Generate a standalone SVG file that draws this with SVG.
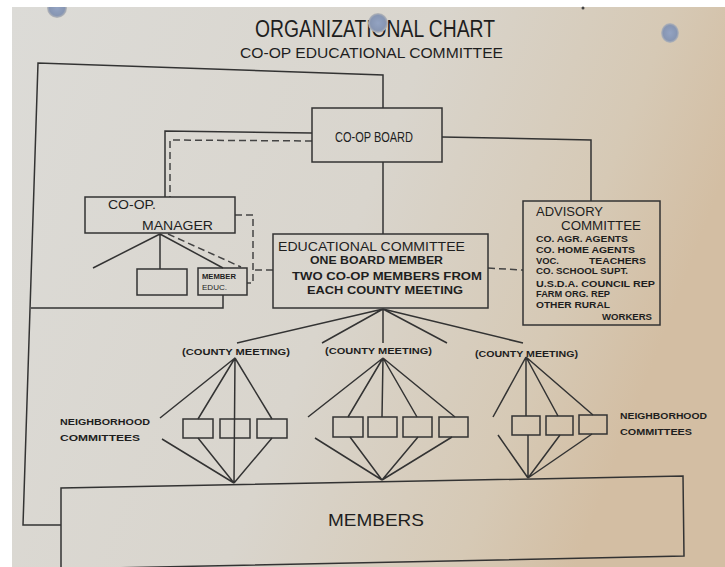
<svg xmlns="http://www.w3.org/2000/svg" width="725" height="567" viewBox="0 0 725 567">
<defs>
<linearGradient id="paper" x1="0" y1="0" x2="1" y2="0.3">
<stop offset="0" stop-color="#dcdbd7"/>
<stop offset="0.55" stop-color="#d9d5cd"/>
<stop offset="0.85" stop-color="#d6c9b5"/>
<stop offset="1" stop-color="#d3bea3"/>
</linearGradient>
<radialGradient id="hole" cx="0.5" cy="0.5" r="0.5">
<stop offset="0" stop-color="#93a3c2"/>
<stop offset="0.75" stop-color="#8796b3"/>
<stop offset="1" stop-color="#b8b8b8"/>
</radialGradient>
<style>
.ln{fill:none;stroke:#333;stroke-width:1.5;stroke-linejoin:miter}
.ds{fill:none;stroke:#444;stroke-width:1.5;stroke-dasharray:7,4}
.bx{fill:none;stroke:#333;stroke-width:1.5}
.t{font-family:"Liberation Sans",Arial,sans-serif;fill:#1e1e1e}
.b{font-family:"Liberation Sans",Arial,sans-serif;fill:#1e1e1e;font-weight:bold}
</style>
</defs>
<rect x="0" y="0" width="725" height="567" fill="#ffffff"/>
<rect x="12" y="7" width="713" height="560" fill="url(#paper)"/>
<circle cx="57" cy="8" r="10" fill="url(#hole)"/>
<rect x="40" y="0" width="40" height="7" fill="#ffffff"/>
<ellipse cx="670" cy="33" rx="9" ry="10" fill="url(#hole)"/>
<circle cx="583" cy="8" r="1.5" fill="#444"/>

<g id="title">
<text class="t" x="255" y="37" font-size="23" textLength="240" lengthAdjust="spacingAndGlyphs">ORGANIZATIONAL CHART</text>
<circle cx="378" cy="23" r="10" fill="url(#hole)"/>
<text class="t" x="240" y="58" font-size="15" textLength="263" lengthAdjust="spacingAndGlyphs">CO-OP EDUCATIONAL COMMITTEE</text>
</g>

<g id="connectors">
<path class="ln" d="M383,108 L383,75 L38,63 L23,525 L61,525"/>
<path class="ln" d="M223,295 L223,308 L31,308"/>
<path class="ln" d="M312,133 L165,131 L165,197"/>
<path class="ds" d="M312,141 L170,140 L170,197"/>
<path class="ln" d="M442,137 L591,140 L591,201"/>
<path class="ln" d="M383,162 L383,234"/>
<path class="ln" d="M160,234 L93,268 M160,234 L160,269 M160,234 L223,268"/>
<path class="ds" d="M168,234 L241,267"/>
<path class="ds" d="M235,215 L253,215 L253,283 L247,283"/>
<path class="ds" d="M273,270 L253,270"/>
<path class="ds" d="M488,268 L523,270"/>
<path class="ln" d="M383,309 L237,343 M383,309 L322,343 M383,309 L383,343 M383,309 L447,343 M383,309 L523,343"/>
<path class="ln" d="M235,358 L160,418 M235,358 L198,419 M235,358 L234,483 M235,358 L272,419 M162,439 L234,483 M198,438 L234,483 M272,438 L234,483"/>
<path class="ln" d="M383,358 L308,417 M383,358 L348,417 M383,358 L382,417 M383,358 L417,417 M383,358 L455,417 M315,438 L382,480 M350,437 L382,480 M418,437 L382,480 M452,437 L382,480"/>
<path class="ln" d="M526,357 L493,417 M526,357 L526,416 M526,357 L558,416 M526,357 L593,415 M498,435 L528,478 M528,435 L528,478 M560,435 L528,478 M592,434 L528,478"/>
</g>

<g id="board">
<rect class="bx" x="312" y="108" width="130" height="54"/>
<text class="t" x="335" y="142" font-size="14" textLength="78" lengthAdjust="spacingAndGlyphs">CO-OP BOARD</text>
</g>

<g id="manager">
<rect class="bx" x="85" y="197" width="150" height="36"/>
<text class="t" x="108" y="209" font-size="13" textLength="48" lengthAdjust="spacingAndGlyphs">CO-OP.</text>
<text class="t" x="142" y="230" font-size="13" textLength="71" lengthAdjust="spacingAndGlyphs">MANAGER</text>
</g>

<g id="blank-box">
<rect class="bx" x="137" y="269" width="50" height="26"/>
</g>

<g id="member-educ">
<rect class="bx" x="198" y="268" width="49" height="27"/>
<text class="b" x="202" y="279" font-size="8" textLength="34" lengthAdjust="spacingAndGlyphs">MEMBER</text>
<text class="t" x="202" y="290" font-size="8" textLength="25" lengthAdjust="spacingAndGlyphs">EDUC.</text>
</g>

<g id="educational-committee">
<rect class="bx" x="273" y="234" width="215" height="74"/>
<text class="t" x="278" y="251" font-size="13" textLength="187" lengthAdjust="spacingAndGlyphs">EDUCATIONAL COMMITTEE</text>
<text class="b" x="310" y="264" font-size="10.5" textLength="133" lengthAdjust="spacingAndGlyphs">ONE BOARD MEMBER</text>
<text class="b" x="292" y="280" font-size="10.5" textLength="190" lengthAdjust="spacingAndGlyphs">TWO CO-OP MEMBERS FROM</text>
<text class="b" x="307" y="294" font-size="10.5" textLength="156" lengthAdjust="spacingAndGlyphs">EACH COUNTY MEETING</text>
</g>

<g id="advisory-committee">
<rect class="bx" x="523" y="201" width="137" height="124"/>
<text class="t" x="536" y="216" font-size="12" textLength="67" lengthAdjust="spacingAndGlyphs">ADVISORY</text>
<text class="t" x="561" y="230" font-size="12" textLength="80" lengthAdjust="spacingAndGlyphs">COMMITTEE</text>
<text class="b" x="536" y="242" font-size="9" textLength="92" lengthAdjust="spacingAndGlyphs">CO. AGR. AGENTS</text>
<text class="b" x="536" y="253" font-size="9" textLength="99" lengthAdjust="spacingAndGlyphs">CO. HOME AGENTS</text>
<text class="b" x="536" y="264" font-size="9" textLength="23" lengthAdjust="spacingAndGlyphs">VOC.</text>
<text class="b" x="589" y="264" font-size="9" textLength="57" lengthAdjust="spacingAndGlyphs">TEACHERS</text>
<text class="b" x="536" y="274" font-size="9" textLength="92" lengthAdjust="spacingAndGlyphs">CO. SCHOOL SUPT.</text>
<text class="b" x="536" y="287" font-size="9" textLength="119" lengthAdjust="spacingAndGlyphs">U.S.D.A. COUNCIL REP</text>
<text class="b" x="536" y="297" font-size="9" textLength="74" lengthAdjust="spacingAndGlyphs">FARM ORG. REP</text>
<text class="b" x="536" y="308" font-size="9" textLength="74" lengthAdjust="spacingAndGlyphs">OTHER RURAL</text>
<text class="b" x="602" y="320" font-size="9" textLength="50" lengthAdjust="spacingAndGlyphs">WORKERS</text>
</g>

<g id="county-meeting-1">
<text class="b" x="182" y="355" font-size="9" textLength="108" lengthAdjust="spacingAndGlyphs">(COUNTY MEETING)</text>
</g>
<g id="county-meeting-2">
<text class="b" x="325" y="354" font-size="9" textLength="107" lengthAdjust="spacingAndGlyphs">(COUNTY MEETING)</text>
</g>
<g id="county-meeting-3">
<text class="b" x="475" y="357" font-size="9" textLength="103" lengthAdjust="spacingAndGlyphs">(COUNTY MEETING)</text>
</g>

<g id="neighborhood-left">
<rect class="bx" x="183" y="419" width="30" height="19"/>
<rect class="bx" x="220" y="419" width="30" height="19"/>
<rect class="bx" x="257" y="419" width="30" height="19"/>
<text class="b" x="60" y="425" font-size="9" textLength="90" lengthAdjust="spacingAndGlyphs">NEIGHBORHOOD</text>
<text class="b" x="60" y="441" font-size="9" textLength="80" lengthAdjust="spacingAndGlyphs">COMMITTEES</text>
</g>

<g id="neighborhood-middle">
<rect class="bx" x="333" y="417" width="30" height="20"/>
<rect class="bx" x="368" y="417" width="29" height="20"/>
<rect class="bx" x="403" y="417" width="29" height="20"/>
<rect class="bx" x="439" y="417" width="29" height="20"/>
</g>

<g id="neighborhood-right">
<rect class="bx" x="512" y="416" width="28" height="19"/>
<rect class="bx" x="546" y="416" width="27" height="19"/>
<rect class="bx" x="579" y="415" width="28" height="19"/>
<text class="b" x="620" y="419" font-size="9" textLength="87" lengthAdjust="spacingAndGlyphs">NEIGHBORHOOD</text>
<text class="b" x="620" y="435" font-size="9" textLength="72" lengthAdjust="spacingAndGlyphs">COMMITTEES</text>
</g>

<g id="members">
<path class="bx" d="M61,569 L61,488 L683,476 L684,556 L61,569"/>
<text class="t" x="328" y="526" font-size="17" textLength="96" lengthAdjust="spacingAndGlyphs">MEMBERS</text>
</g>
</svg>
